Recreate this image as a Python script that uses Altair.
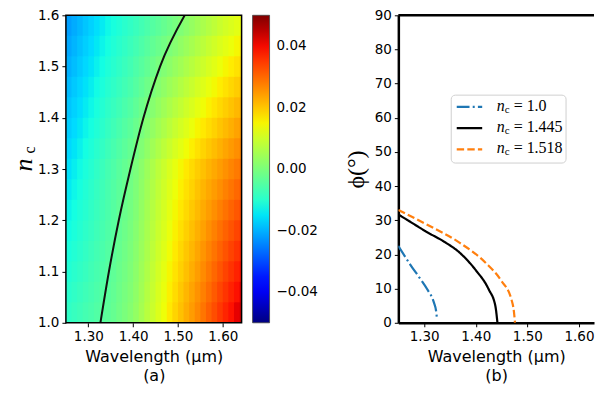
import altair as alt
import pandas as pd

# ---------------- Panel (a): heat map (values read in units of 1e-3) ----------------
wl_centers = [1.25625, 1.26875, 1.28125, 1.29375, 1.30625, 1.31875, 1.33125, 1.34375,
              1.35625, 1.36875, 1.38125, 1.39375, 1.40625, 1.41875, 1.43125, 1.44375,
              1.45625, 1.46875, 1.48125, 1.49375, 1.50625, 1.51875, 1.53125, 1.54375,
              1.55625, 1.56875, 1.58125, 1.59375, 1.60625, 1.61875, 1.63125, 1.64375]
nc_centers = [1.02, 1.06, 1.10, 1.14, 1.18, 1.22, 1.26, 1.30,
              1.34, 1.38, 1.42, 1.46, 1.50, 1.54, 1.58]
wl_step = 0.0125
nc_step = 0.04

row_102 = [-9.1, -8.3, -7.5, -6.7, -5.9, -5.1, -4.4, -3.6, -2.6, -1.3, -0.1, 1.2, 2.9, 5.1, 7.4, 9.6,
           11.8, 14.0, 16.3, 18.5, 20.6, 22.6, 24.5, 26.5, 28.6, 30.8, 32.9, 35.1, 37.2, 39.1, 41.1, 43.0]
row_106 = [-10.0, -9.1, -8.3, -7.4, -6.6, -5.7, -4.9, -4.0, -3.0, -1.7, -0.5, 0.8, 2.5, 4.7, 6.9, 9.1,
           11.3, 13.4, 15.6, 17.7, 19.8, 21.7, 23.6, 25.5, 27.4, 29.5, 31.5, 33.6, 35.5, 37.4, 39.2, 41.1]
row_110 = [-10.9, -10.0, -9.1, -8.2, -7.2, -6.3, -5.4, -4.5, -3.4, -2.1, -0.9, 0.4, 2.1, 4.3, 6.4, 8.6,
           10.7, 12.8, 14.9, 17.0, 18.9, 20.7, 22.6, 24.4, 26.3, 28.2, 30.1, 32.0, 33.9, 35.6, 37.4, 39.1]
row_114 = [-11.8, -10.8, -9.8, -8.8, -7.8, -6.8, -5.9, -4.9, -3.8, -2.5, -1.3, 0.0, 1.7, 3.8, 5.9, 8.0,
           10.1, 12.1, 14.2, 16.2, 18.1, 19.9, 21.6, 23.4, 25.2, 27.0, 28.7, 30.5, 32.2, 33.9, 35.5, 37.2]
row_118 = [-12.7, -11.6, -10.6, -9.5, -8.5, -7.4, -6.4, -5.3, -4.2, -2.9, -1.7, -0.4, 1.3, 3.4, 5.5, 7.6,
           9.6, 11.5, 13.5, 15.4, 17.3, 19.0, 20.7, 22.4, 24.0, 25.7, 27.3, 29.0, 30.6, 32.1, 33.7, 35.2]
row_122 = [-13.6, -12.5, -11.3, -10.3, -9.1, -8.0, -6.9, -5.8, -4.6, -3.3, -2.1, -0.8, 0.8, 2.9, 5.0, 7.1,
           9.0, 10.9, 12.8, 14.7, 16.4, 18.0, 19.7, 21.3, 22.9, 24.4, 25.9, 27.4, 28.9, 30.4, 31.8, 33.3]
row_126 = [-14.5, -13.3, -12.1, -10.9, -9.7, -8.5, -7.4, -6.2, -5.0, -3.7, -2.5, -1.2, 0.4, 2.4, 4.5, 6.5,
           8.4, 10.2, 12.1, 13.9, 15.6, 17.2, 18.7, 20.3, 21.8, 23.2, 24.5, 25.9, 27.3, 28.6, 30.0, 31.3]
row_130 = [-15.4, -14.1, -12.9, -11.6, -10.4, -9.1, -7.9, -6.6, -5.4, -4.1, -2.9, -1.6, 0.0, 2.0, 4.0, 6.0,
           7.9, 9.6, 11.4, 13.1, 14.8, 16.3, 17.8, 19.3, 20.6, 21.9, 23.1, 24.4, 25.6, 26.9, 28.1, 29.4]
row_134 = [-16.3, -15.0, -13.8, -12.5, -11.3, -10.0, -8.8, -7.5, -6.3, -5.1, -3.9, -2.7, -1.2, 0.7, 2.6, 4.5,
           6.2, 7.9, 9.5, 11.2, 12.7, 14.2, 15.7, 17.2, 18.5, 19.8, 21.0, 22.3, 23.5, 24.7, 25.9, 27.1]
row_138 = [-17.3, -16.0, -14.8, -13.5, -12.3, -11.0, -9.8, -8.5, -7.3, -6.1, -4.9, -3.7, -2.2, -0.5, 1.2, 2.9,
           4.6, 6.1, 7.7, 9.2, 10.7, 12.1, 13.6, 15.0, 16.3, 17.6, 18.8, 20.1, 21.3, 22.5, 23.7, 24.9]
row_142 = [-18.2, -16.9, -15.7, -14.4, -13.2, -11.9, -10.7, -9.4, -8.2, -7.1, -5.9, -4.8, -3.4, -1.8, -0.2, 1.4,
           2.9, 4.4, 5.8, 7.3, 8.7, 10.1, 11.5, 12.9, 14.2, 15.5, 16.7, 18.0, 19.2, 20.3, 21.5, 22.6]
row_146 = [-19.1, -17.8, -16.6, -15.3, -14.1, -12.8, -11.6, -10.3, -9.2, -8.1, -7.0, -5.9, -4.6, -3.1, -1.6, -0.1,
           1.3, 2.6, 4.0, 5.3, 6.7, 8.1, 9.4, 10.8, 12.1, 13.4, 14.6, 15.9, 17.1, 18.2, 19.3, 20.4]
row_150 = [-20.1, -18.8, -17.6, -16.3, -15.1, -13.8, -12.6, -11.3, -10.2, -9.1, -8.0, -6.9, -5.6, -4.3, -3.0, -1.7,
           -0.4, 0.9, 2.1, 3.4, 4.7, 6.0, 7.3, 8.6, 9.9, 11.2, 12.4, 13.7, 14.9, 16.0, 17.1, 18.2]
row_154 = [-21.0, -19.7, -18.5, -17.2, -16.0, -14.7, -13.5, -12.2, -11.1, -10.0, -9.0, -7.9, -6.8, -5.6, -4.4, -3.2,
           -2.0, -0.9, 0.3, 1.4, 2.7, 3.9, 5.3, 6.6, 7.8, 9.1, 10.3, 11.6, 12.7, 13.8, 14.8, 15.9]
row_158 = [-21.9, -20.6, -19.4, -18.1, -16.9, -15.6, -14.4, -13.1, -12.0, -11.0, -10.0, -9.0, -8.0, -6.9, -5.8, -4.7,
           -3.7, -2.6, -1.6, -0.5, 0.6, 1.9, 3.2, 4.5, 5.7, 7.0, 8.2, 9.5, 10.6, 11.6, 12.6, 13.6]
field_rows_milli = [row_102, row_106, row_110, row_114, row_118, row_122, row_126, row_130,
                    row_134, row_138, row_142, row_146, row_150, row_154, row_158]

contour_wl = [1.327, 1.346, 1.368, 1.394, 1.423, 1.460, 1.515]
contour_nc = [1.0, 1.1, 1.2, 1.3, 1.4, 1.5, 1.6]

# jet colour map break points (fraction of the colour bar) and colours
jet_t = [0.0, 0.11, 0.125, 0.34, 0.35, 0.375, 0.64, 0.65, 0.66, 0.89, 0.91, 1.0]
jet_colors = ["#000080", "#0000ff", "#0000ff", "#00dbff", "#00e5f7", "#14ffe2",
              "#eeff08", "#f7f500", "#ffec00", "#ff1300", "#e80000", "#800000"]
cbar_min, cbar_max = -0.05, 0.05
cbar_ticks = [-0.04, -0.02, 0.0, 0.02, 0.04]

# ---------------- Panel (b): phi vs wavelength ----------------
series_names = ["n_c = 1.0", "n_c = 1.445", "n_c = 1.518"]
wl_nc10 = [1.25, 1.275, 1.29, 1.306, 1.319, 1.323, 1.325]
phi_nc10 = [22.5, 16.6, 13.4, 9.8, 5.9, 3.6, 1.0]
wl_nc1445 = [1.25, 1.278, 1.306, 1.337, 1.369, 1.40, 1.425, 1.438, 1.442]
phi_nc1445 = [31.7, 29.1, 26.5, 23.9, 20.5, 15.4, 9.8, 4.9, 0.0]
wl_nc1518 = [1.25, 1.306, 1.369, 1.419, 1.45, 1.469, 1.474, 1.476]
phi_nc1518 = [33.0, 28.7, 23.4, 17.6, 12.2, 6.9, 3.2, 0.0]
series_colors = ["#1f77b4", "#000000", "#ff7f0e"]
series_dash = [[12.8, 3.2, 2, 3.2], [1, 0], [7.4, 3.2]]
legend_values = ["1.0", "1.445", "1.518"]

# ---------------- tables ----------------
OV_WL, OV_NC = 0.002, 0.004  # tiny overlap so neighbouring cells leave no seams
recs = []
for nc, row in zip(nc_centers, field_rows_milli):
    for wl, v in zip(wl_centers, row):
        recs.append({"wl0": wl - wl_step / 2, "wl1": wl + wl_step / 2 + OV_WL,
                     "nc0": nc - nc_step / 2, "nc1": nc + nc_step / 2 + OV_NC,
                     "val": v / 1000.0})
heat_df = pd.DataFrame(recs)
contour_df = pd.DataFrame({"wl": contour_wl, "nc": contour_nc})

line_df = pd.concat([
    pd.DataFrame({"wl": wl_nc10, "phi": phi_nc10, "s": series_names[0]}),
    pd.DataFrame({"wl": wl_nc1445, "phi": phi_nc1445, "s": series_names[1]}),
    pd.DataFrame({"wl": wl_nc1518, "phi": phi_nc1518, "s": series_names[2]}),
], ignore_index=True)
line_df["order"] = range(len(line_df))
one = pd.DataFrame({"a": [0]})

FONT = "DejaVu Sans"
SERIF = "Liberation Serif"
W1, H = 176, 308
W2 = 196
XL = [1.25, 1.642]
XR = [1.25, 1.6291]

jet_domain = [cbar_min + (cbar_max - cbar_min) * t for t in jet_t]
jet_scale = alt.Scale(domain=jet_domain, range=jet_colors, interpolate="rgb")

x_left = alt.X("wl0:Q", scale=alt.Scale(domain=XL, nice=False, zero=False),
               axis=alt.Axis(values=[1.3, 1.4, 1.5, 1.6], format=".2f",
                             title=["Wavelength (µm)", "(a)"], domain=False))
y_left = alt.Y("nc0:Q", scale=alt.Scale(domain=[1.0, 1.6], nice=False, zero=False),
               axis=alt.Axis(values=[1.0, 1.1, 1.2, 1.3, 1.4, 1.5, 1.6], format=".1f",
                             title=None, domain=False))

heat = alt.Chart(heat_df).mark_rect(clip=True, strokeWidth=0).encode(
    x=x_left, x2="wl1:Q", y=y_left, y2="nc1:Q",
    color=alt.Color("val:Q", scale=jet_scale,
                    legend=alt.Legend(type="gradient", title=None, orient="right", offset=11,
                                      direction="vertical",
                                      gradientLength=H, gradientThickness=17,
                                      values=cbar_ticks, format=".2f",
                                      labelFontSize=13.5, labelFont=FONT,
                                      labelColor="black", labelOffset=7,
                                      labelOverlap=False,
                                      gradientStrokeColor="#444",
                                      gradientStrokeWidth=0.8)),
)
contour = alt.Chart(contour_df).mark_line(color="#111111", strokeWidth=2,
                                          interpolate="monotone", clip=True).encode(
    x="wl:Q", y="nc:Q", order="nc:Q")
frame = alt.Chart(one).mark_rect(fill=None, stroke="black", strokeWidth=1.5).encode(
    x=alt.value(0), x2=alt.value(W1), y=alt.value(0), y2=alt.value(H))
n_lab = alt.Chart(one).mark_text(text="n", angle=270, font=SERIF, fontStyle="italic",
                                 fontSize=26, baseline="alphabetic", align="center",
                                 color="black").encode(
    x=alt.value(-34.2), y=alt.value(150))
c_lab = alt.Chart(one).mark_text(text="c", angle=270, font=SERIF, fontSize=16,
                                 baseline="alphabetic", align="center",
                                 color="black").encode(
    x=alt.value(-31), y=alt.value(135))

left = alt.layer(heat, contour, frame, n_lab, c_lab).properties(width=W1, height=H)

# right panel
lines = alt.Chart(line_df).mark_line(strokeWidth=2.2, interpolate="monotone", clip=True).encode(
    x=alt.X("wl:Q", scale=alt.Scale(domain=XR, nice=False, zero=False),
            axis=alt.Axis(values=[1.3, 1.4, 1.5, 1.6], format=".2f",
                          title=["Wavelength (µm)", "(b)"],
                          domain=True, domainColor="black", domainWidth=2.5)),
    y=alt.Y("phi:Q", scale=alt.Scale(domain=[0, 90], nice=False),
            axis=alt.Axis(values=list(range(0, 91, 10)), title="ϕ(°)",
                          titleFont=SERIF, titleFontSize=24, titlePadding=6,
                          domain=True, domainColor="black", domainWidth=2.5)),
    color=alt.Color("s:N", scale=alt.Scale(domain=series_names, range=series_colors), legend=None),
    strokeDash=alt.StrokeDash("s:N", scale=alt.Scale(domain=series_names, range=series_dash), legend=None),
    detail="s:N",
    order="order:Q",
)
top_spine = alt.Chart(one).mark_rule(color="black", strokeWidth=2.5).encode(
    x=alt.value(0), x2=alt.value(W2), y=alt.value(0))

leg_layers = [
    alt.Chart(one).mark_rect(fill="white", stroke="#cccccc", strokeWidth=1,
                             cornerRadius=4, opacity=0.9).encode(
        x=alt.value(53), x2=alt.value(168), y=alt.value(80), y2=alt.value(148))
]
for i, (val, col, dash) in enumerate(zip(legend_values, series_colors, series_dash)):
    yy = 91.7 + 21.3 * i
    leg_layers.append(alt.Chart(one).mark_rule(color=col, strokeWidth=2.2, strokeDash=dash).encode(
        x=alt.value(58.5), x2=alt.value(84), y=alt.value(yy)))
    leg_layers.append(alt.Chart(one).mark_text(text="n", font=SERIF, fontStyle="italic",
                                               fontSize=16, align="left", baseline="middle",
                                               color="black").encode(
        x=alt.value(98.5), y=alt.value(yy - 1)))
    leg_layers.append(alt.Chart(one).mark_text(text="c", font=SERIF, fontSize=11,
                                               align="left", baseline="middle",
                                               color="black").encode(
        x=alt.value(106.5), y=alt.value(yy + 3)))
    leg_layers.append(alt.Chart(one).mark_text(text="= " + val, font=SERIF, fontSize=16,
                                               align="left", baseline="middle",
                                               color="black").encode(
        x=alt.value(115.5), y=alt.value(yy - 1)))

right = alt.layer(lines, top_spine, *leg_layers).properties(width=W2, height=H)

chart = alt.hconcat(left, right, spacing=157, bounds="flush").resolve_scale(
    color="independent", strokeDash="independent"
).resolve_legend(color="independent").properties(
    padding={"left": 2, "top": 0, "right": 0, "bottom": 0}
).configure_view(stroke=None).configure_axis(
    grid=False, labelFont=FONT, labelFontSize=13.5, labelColor="black",
    tickColor="black", tickSize=4, tickWidth=1, labelPadding=3,
    titleFont=FONT, titleFontSize=16, titleFontWeight="normal", titleColor="black",
    titleLineHeight=19, titlePadding=5,
)

chart.save("out.html", embed_options={"renderer": "svg", "actions": False})
